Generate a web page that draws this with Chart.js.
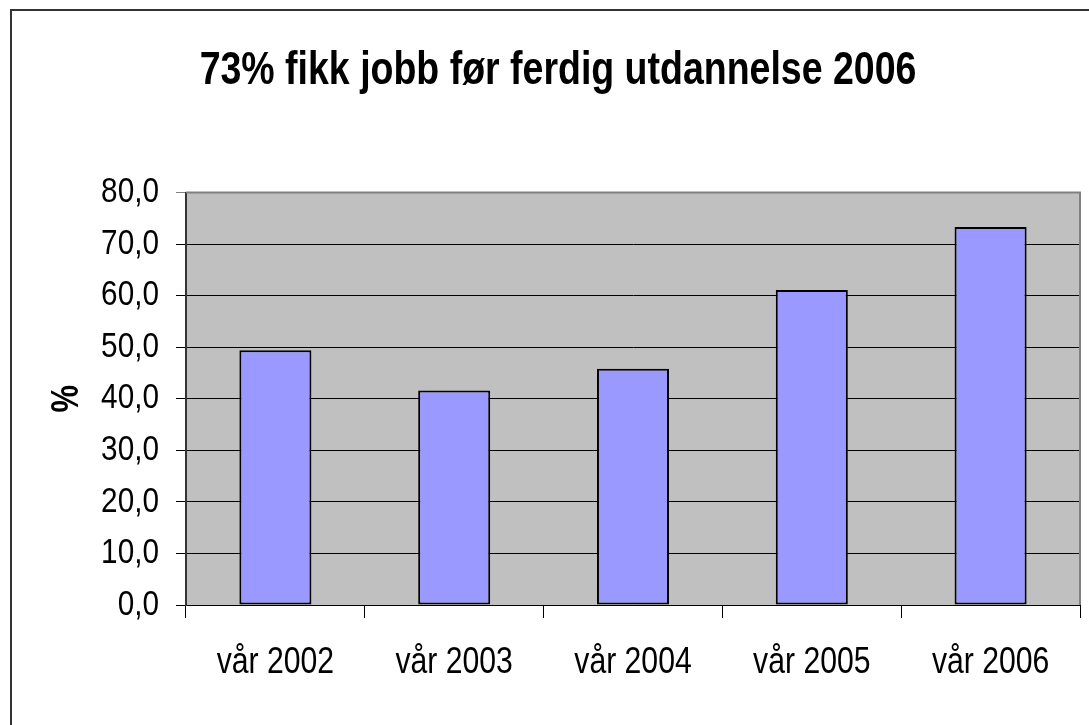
<!DOCTYPE html>
<html>
<head>
<meta charset="utf-8">
<script src="https://cdn.jsdelivr.net/npm/chart.js@4"></script>
<style>
  html, body { margin: 0; padding: 0; background: #fff; }
  #wrap { width: 1089px; height: 725px; }
</style>
</head>
<body>
<div id="wrap"><canvas id="jobChart" width="1089" height="725"></canvas></div>
<script>
const categories = ["vår 2002", "vår 2003", "vår 2004", "vår 2005", "vår 2006"];
const shareWithJob = [49.4, 41.6, 45.8, 61.1, 73.3];
const yTickLabels = ["0,0", "10,0", "20,0", "30,0", "40,0", "50,0", "60,0", "70,0", "80,0"];

const sans = "'Liberation Sans', Arial, sans-serif";

// the original text is narrow (Arial Narrow look) -> squeeze glyphs horizontally
const narrowText = {
  id: "narrowText",
  beforeDraw(chart) {
    const ctx = chart.ctx;
    if (ctx._narrowed) return;
    const orig = ctx.fillText.bind(ctx);
    ctx.fillText = function (text, x, y, maxWidth) {
      const k = this.font.indexOf("35px") >= 0 ? 0.85 : 0.815;
      this.save();
      this.translate(x, y);
      this.scale(k, 1);
      if (maxWidth === undefined) orig(text, 0, 0);
      else orig(text, 0, 0, maxWidth / k);
      this.restore();
    };
    ctx._narrowed = true;
  }
};

// plot background + frame
const frame = {
  id: "frame",
  beforeDraw(chart) {
    const { ctx, chartArea: a } = chart;
    ctx.save();
    ctx.strokeStyle = "#333";
    ctx.lineWidth = 2;
    ctx.strokeRect(11, 10, 1200, 900);
    ctx.fillStyle = "#c0c0c0";
    ctx.fillRect(a.left, a.top, a.right - a.left, a.bottom - a.top);
    ctx.restore();
  },
  afterDatasetsDraw(chart) {
    const { ctx, chartArea: a } = chart;
    ctx.save();
    ctx.strokeStyle = "#808080";
    ctx.lineWidth = 2;
    ctx.beginPath();
    ctx.moveTo(a.left, a.top);
    ctx.lineTo(a.right, a.top);
    ctx.lineTo(a.right, a.bottom);
    ctx.stroke();
    ctx.restore();
  }
};

new Chart(document.getElementById("jobChart"), {
  type: "bar",
  data: {
    labels: categories,
    datasets: [{
      data: shareWithJob,
      backgroundColor: "#9999ff",
      borderColor: "#000",
      borderWidth: 2,
      borderSkipped: false,
      categoryPercentage: 1,
      barPercentage: 0.403
    }]
  },
  options: {
    responsive: false,
    animation: false,
    layout: { padding: { left: 36, right: 9, top: 10, bottom: 0 } },
    plugins: {
      legend: { display: false },
      tooltip: { enabled: false },
      title: {
        display: true,
        text: "73% fikk jobb før ferdig utdannelse 2006",
        color: "#000",
        font: { family: sans, size: 46, weight: "bold" },
        padding: { top: 34, bottom: 93.3 }
      }
    },
    scales: {
      x: {
        afterFit: s => { s.height = 120; },
        grid: {
          offset: true,
          drawOnChartArea: false,
          tickLength: 13,
          color: "#000"
        },
        border: { color: "#000", width: 1 },
        ticks: {
          color: "#000",
          padding: 23,
          font: { family: sans, size: 37 }
        }
      },
      y: {
        min: 0,
        max: 80,
        afterFit: s => { s.width = 150; },
        grid: {
          color: ctx => (ctx.tick && ctx.tick.value === 80 ? "#808080" : "#000"),
          tickLength: 10,
          lineWidth: 1
        },
        border: { color: "#333", width: 2 },
        ticks: {
          stepSize: 10,
          color: "#000",
          padding: 17,
          font: { family: sans, size: 35 },
          callback: (value, i) => yTickLabels[i]
        },
        title: {
          display: true,
          text: "%",
          color: "#000",
          font: { family: sans, size: 38, weight: "bold" },
          padding: { top: 9, bottom: 0 }
        }
      }
    }
  },
  plugins: [narrowText, frame]
});
</script>
</body>
</html>
